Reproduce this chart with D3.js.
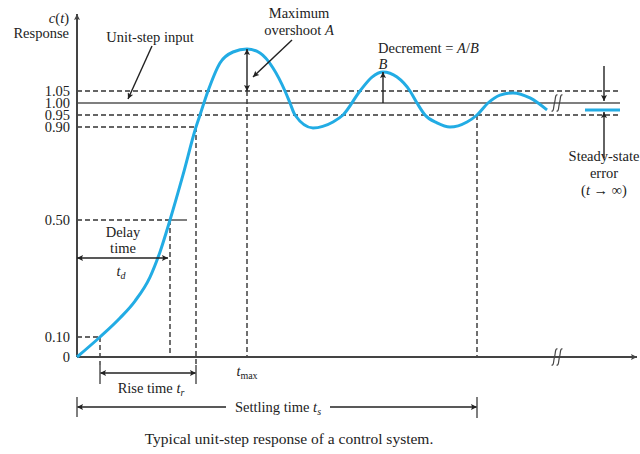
<!DOCTYPE html>
<html lang="en">
    <head>
        <meta charset="UTF-8">
        <style>
            html, body{
                margin: 0;
                padding: 0;
                background: #fff;
            }
            svg text{
                font-family: 'Liberation Serif', 'DejaVu Serif', serif;
                fill: #222;
            }
            .dash{
                fill: none;
                stroke: #333;
                stroke-width: 1.4px;
                stroke-dasharray: 5 3;
            }
            .solid{
                fill: none;
                stroke: #555;
                stroke-width: 1.5px;
            }
        </style>
    </head>
    <body>
        <svg id="chart" width="640" height="454"></svg>

        <script src="https://d3js.org/d3.v7.min.js"></script>
        <script>
            // ---- data (time in arbitrary units, response c(t)) ----
            const curveTime = [0, 0.575, 1.075, 1.45, 1.825, 2.075, 2.325, 2.65, 2.975, 3.075, 3.275, 3.575, 3.9, 4.25, 4.575, 4.9, 5.2, 5.325, 5.45, 5.9, 6.4, 6.65, 7.075, 7.375, 7.65, 8.0, 8.325, 8.5, 8.7, 9.0, 9.325, 9.75, 10.0, 10.275, 10.575, 10.9, 11.325, 11.75]
            const curveResponse = [0, 0.10, 0.165, 0.223, 0.305, 0.391, 0.50, 0.694, 0.90, 0.95, 1.05, 1.167, 1.2125, 1.225, 1.208, 1.146, 1.05, 1.00, 0.95, 0.896, 0.921, 0.95, 1.05, 1.108, 1.129, 1.108, 1.05, 1.00, 0.95, 0.917, 0.90, 0.921, 0.95, 1.00, 1.033, 1.042, 1.021, 0.971]
            const tickValues = [0, 0.10, 0.50, 0.90, 0.95, 1.00, 1.05]
            const tickLabels = ['0', '0.10', '0.50', '0.90', '0.95', '1.00', '1.05']
            const keyTimes = {tenPct: 0.575, delay: 2.325, rise: 2.975, tmax: 4.25, settle: 10, brk: 12, end: 13.575}
            const peakA = 1.225, peakB = 1.129, steadyValue = 0.971
            const steadyTimes = [12.7, 13.575]

            const svg = d3.select('#chart')
            const x = d3.scaleLinear().domain([0, 14]).range([77, 637])
            // schematic drawing: vertical spacing is not uniform, so map ticks piecewise
            const y = d3.scaleLinear().domain(tickValues).range([357, 337, 220, 127, 115, 103, 91])

            const defs = svg.append('defs')
            function marker(id, color){
                defs.append('marker').attr('id', id)
                    .attr('viewBox', '0 0 10 10').attr('refX', 10).attr('refY', 5)
                    .attr('markerWidth', 9).attr('markerHeight', 6)
                    .attr('markerUnits', 'userSpaceOnUse')
                    .attr('orient', 'auto-start-reverse')
                    .append('path').attr('d', 'M0,0 L10,5 L0,10 L2,5 Z').attr('fill', color)
            }
            marker('ah', '#222')
            marker('axh', '#444')

            const g = svg.append('g')
            const line = (x1, y1, x2, y2, cls) => g.append('line')
                .attr('x1', x1).attr('y1', y1).attr('x2', x2).attr('y2', y2).attr('class', cls)
            function arrow(x1, y1, x2, y2, both){
                const l = g.append('line').attr('x1', x1).attr('y1', y1).attr('x2', x2).attr('y2', y2)
                    .attr('stroke', '#222').attr('stroke-width', 1.4).attr('marker-end', 'url(#ah)')
                if(both) l.attr('marker-start', 'url(#ah)')
                return l
            }

            // reference levels
            line(x(0), y(1.05), x(keyTimes.end), y(1.05), 'dash')
            line(x(0), y(0.95), x(keyTimes.end), y(0.95), 'dash')
            line(x(0), y(1.00), x(keyTimes.end), y(1.00), 'solid')
            line(x(0), y(0.90), x(keyTimes.rise), y(0.90), 'dash')
            line(x(0), y(0.50), x(keyTimes.delay), y(0.50), 'dash')
            line(x(keyTimes.delay), y(0.50), x(2.75), y(0.50), 'solid')
            line(x(0), y(0.10), x(keyTimes.tenPct), y(0.10), 'dash')

            // vertical markers
            line(x(keyTimes.tenPct), y(0.10), x(keyTimes.tenPct), 365, 'dash')
            line(x(keyTimes.delay), y(0.50), x(keyTimes.delay), y(0), 'dash')
            line(x(keyTimes.rise), y(0.90), x(keyTimes.rise), 365, 'dash')
            line(x(keyTimes.tmax), y(1.05), x(keyTimes.tmax), y(0), 'dash')
            line(x(keyTimes.settle), y(0.95), x(keyTimes.settle), y(0), 'dash')

            // axes
            g.append('line').attr('x1', x(0)).attr('y1', y(0)).attr('x2', x(0)).attr('y2', 14)
                .attr('stroke', '#444').attr('stroke-width', 2).attr('marker-end', 'url(#axh)')
            g.append('line').attr('x1', x(0)).attr('y1', y(0)).attr('x2', x(14)).attr('y2', y(0))
                .attr('stroke', '#444').attr('stroke-width', 2).attr('marker-end', 'url(#axh)')

            // break marks
            function brk(cx, cy){
                [-2.5, 2.5].forEach(dx => {
                    const px = cx + dx
                    g.append('path')
                        .attr('d', `M${px-3},${cy+8} C${px-0.5},${cy+9} ${px-1},${cy+3} ${px},${cy} C${px+1},${cy-3} ${px+0.5},${cy-9} ${px+3},${cy-8}`)
                        .attr('fill', 'none').attr('stroke', '#444').attr('stroke-width', 1.2)
                })
            }
            brk(x(keyTimes.brk), y(0))
            brk(x(keyTimes.brk), y(1.00))

            // y tick labels
            g.selectAll('.ytick').data(tickValues).join('text')
                .attr('x', 70).attr('y', d => y(d)).attr('dy', '0.36em')
                .attr('text-anchor', 'end').attr('font-size', 14.5)
                .text((d, i) => tickLabels[i])

            // response curve
            const pts = curveTime.map((t, i) => [t, curveResponse[i]])
            g.append('path').datum(pts)
                .attr('d', d3.line().x(d => x(d[0])).y(d => y(d[1])).curve(d3.curveMonotoneX))
                .attr('fill', 'none').attr('stroke', '#22ace4').attr('stroke-width', 3)
            g.append('line').attr('x1', x(steadyTimes[0])).attr('x2', x(steadyTimes[1]))
                .attr('y1', y(steadyValue)).attr('y2', y(steadyValue))
                .attr('stroke', '#22ace4').attr('stroke-width', 3)

            // annotation arrows
            arrow(x(keyTimes.tmax), y(1.05), x(keyTimes.tmax), y(peakA), true)
            arrow(x(7.65), y(1.00), x(7.65), y(peakB))
            arrow(x(0), 258, x(2.275), 258, true)
            arrow(x(keyTimes.tenPct), 373, x(keyTimes.rise), 373, true)
            arrow(x(0), 407, x(keyTimes.settle), 407, true)
            arrow(152, 46, 128, 99)
            arrow(292, 40, 253, 77)
            arrow(604, 66, 604, y(1.00) - 2)
            arrow(604, 158, 604, y(steadyValue) + 2)

            // solid ticks below the axis
            line(x(keyTimes.tenPct), 365, x(keyTimes.tenPct), 384, 'solid')
            line(x(keyTimes.rise), 365, x(keyTimes.rise), 384, 'solid')
            line(x(0), 397, x(0), 417, 'solid')
            line(x(keyTimes.settle), 397, x(keyTimes.settle), 418, 'solid')

            // texts
            function label(tx, ty, parts, size, anchor){
                const t = g.append('text').attr('x', tx).attr('y', ty)
                    .attr('font-size', size || 14.5).attr('text-anchor', anchor || 'middle')
                parts.forEach(p => {
                    const s = t.append('tspan').text(p[0])
                    if(p[1] === 'i') s.attr('font-style', 'italic')
                    if(p[1] === 'sub') s.attr('font-style', 'italic').attr('font-size', 10).attr('dy', 3)
                    if(p[1] === 'sub0') s.attr('font-size', 10).attr('dy', 3)
                })
                return t
            }
            label(69, 23, [['c', 'i'], ['('], ['t', 'i'], [')']], 14.5, 'end')
            label(69, 38, [['Response']], 14.5, 'end')
            label(150, 42, [['Unit-step input']])
            label(299, 18, [['Maximum']])
            label(299, 35, [['overshoot '], ['A', 'i']])
            label(378, 53, [['Decrement = '], ['A', 'i'], ['/'], ['B', 'i']], 14.5, 'start')
            label(383, 69, [['B', 'i']])
            label(123, 237, [['Delay']])
            label(123, 253, [['time']])
            label(121, 276, [['t', 'i'], ['d', 'sub']])
            label(x(keyTimes.tmax), 376, [['t', 'i'], ['max', 'sub0']])
            label(151, 393, [['Rise time '], ['t', 'i'], ['r', 'sub']])
            label(604, 161, [['Steady-state']])
            label(604, 178, [['error']])
            label(604, 195, [['('], ['t', 'i'], [' \u2192 \u221e)']])
            g.append('rect').attr('x', 226).attr('y', 398).attr('width', 104).attr('height', 18).attr('fill', '#fff')
            label(278, 412, [['Settling time '], ['t', 'i'], ['s', 'sub']])
            label(289, 444, [['Typical unit-step response of a control system.']], 15.5)
        </script>
    </body>
</html>
